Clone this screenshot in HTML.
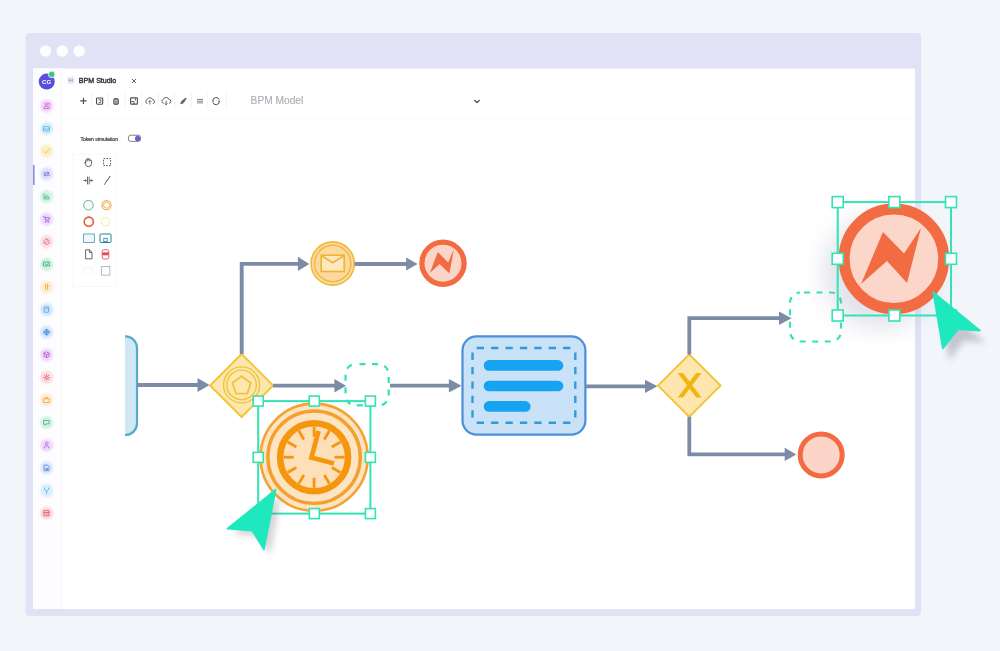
<!DOCTYPE html>
<html><head><meta charset="utf-8">
<style>
html,body{margin:0;padding:0;width:1000px;height:651px;overflow:hidden;background:#f2f6fa;}
svg{display:block;}
text{font-family:"Liberation Sans",sans-serif;}
svg{will-change:transform;}
</style></head><body>
<svg width="1000" height="651" viewBox="0 0 1000 651">
<defs>
<filter id="sh" x="-50%" y="-50%" width="200%" height="200%"><feGaussianBlur stdDeviation="12"/></filter>
<filter id="bl" x="-50%" y="-50%" width="200%" height="200%"><feGaussianBlur stdDeviation="0.8"/></filter>
<filter id="bl2" x="-50%" y="-50%" width="200%" height="200%"><feGaussianBlur stdDeviation="0.3"/></filter>
<filter id="sh2" x="-50%" y="-50%" width="200%" height="200%"><feGaussianBlur stdDeviation="3"/></filter>
</defs>

<rect x="0" y="0" width="1000" height="651" fill="#f2f6fa"/>
<rect x="25.5" y="33" width="895.5" height="583" rx="4" fill="#e1e2f5"/>
<circle cx="45.5" cy="51" r="5.8" fill="#fdfdff"/>
<circle cx="62.3" cy="51" r="5.8" fill="#fdfdff"/>
<circle cx="79.1" cy="51" r="5.8" fill="#fdfdff"/>
<rect x="33" y="68.5" width="882" height="540.5" fill="#ffffff"/>
<rect x="33" y="68.5" width="28" height="540.5" fill="#fdfdff"/>
<line x1="61" y1="68.5" x2="61" y2="609" stroke="#f4f4f8" stroke-width="1"/>
<rect x="33" y="165" width="1.6" height="20" fill="#8a8fd0"/>
<circle cx="46.7" cy="81.6" r="8" fill="#5a4fd8"/>
<text x="46.7" y="84" font-size="6.2" font-weight="bold" fill="#fff" text-anchor="middle">CG</text>
<circle cx="51.7" cy="74.4" r="3.3" fill="#3ec48e" stroke="#fff" stroke-width="0.8"/>
<circle cx="46.6" cy="106.0" r="6.6" fill="#f3d5f7" filter="url(#bl)"/>
<path transform="translate(46.6 106.0)" d="M-2.6 2.2 a2 2 0 0 1 2.2 -2 a2 2 0 0 1 2.2 2 Z M-0.4 -0.6 a1.3 1.3 0 1 1 0.01 0 M1 -1.5 a1.1 1.1 0 1 1 1.5 0.9 M2.4 0.6 a1.8 1.8 0 0 1 0.8 1.6" fill="none" stroke="#c05ad2" stroke-width="0.8" stroke-linecap="round" stroke-linejoin="round" filter="url(#bl2)"/>
<circle cx="46.6" cy="128.6" r="6.6" fill="#d3eefa" filter="url(#bl)"/>
<path transform="translate(46.6 128.6)" d="M-2.8 -2 H2.8 V2.4 H-2.8 Z M-2.8 0.2 H-1 L-0.5 1 H0.5 L1 0.2 H2.8" fill="none" stroke="#4fb0e0" stroke-width="0.8" stroke-linecap="round" stroke-linejoin="round" filter="url(#bl2)"/>
<circle cx="46.6" cy="151.2" r="6.6" fill="#fbf0c5" filter="url(#bl)"/>
<path transform="translate(46.6 151.2)" d="M-2.5 0.2 L-0.8 2 L2.6 -2.2" fill="none" stroke="#e8c040" stroke-width="0.8" stroke-linecap="round" stroke-linejoin="round" filter="url(#bl2)"/>
<circle cx="46.6" cy="173.9" r="6.6" fill="#dfe0fa" filter="url(#bl)"/>
<path transform="translate(46.6 173.9)" d="M-2.8 -1 H2.2 M1.2 -2 L2.4 -1 L1.2 0 M2.8 1.2 H-2.2 M-1.2 0.2 L-2.4 1.2 L-1.2 2.2" fill="none" stroke="#6068d0" stroke-width="0.8" stroke-linecap="round" stroke-linejoin="round" filter="url(#bl2)"/>
<circle cx="46.6" cy="196.5" r="6.6" fill="#d2f2e4" filter="url(#bl)"/>
<path transform="translate(46.6 196.5)" d="M-2.6 -2.6 V2.4 H2.8 M-1.2 1.2 V-0.2 M0.4 1.2 V-1.6 M2 1.2 V0.2" fill="none" stroke="#40b585" stroke-width="0.8" stroke-linecap="round" stroke-linejoin="round" filter="url(#bl2)"/>
<circle cx="46.6" cy="219.1" r="6.6" fill="#ecdafc" filter="url(#bl)"/>
<path transform="translate(46.6 219.1)" d="M-2.9 -2.4 H-1.9 L-1 1 H2.2 L2.8 -1.4 H-1.5 M-0.8 2.4 a0.4 0.4 0 1 0 0.01 0 M1.6 2.4 a0.4 0.4 0 1 0 0.01 0" fill="none" stroke="#9a4fe0" stroke-width="0.8" stroke-linecap="round" stroke-linejoin="round" filter="url(#bl2)"/>
<circle cx="46.6" cy="241.7" r="6.6" fill="#fbdde2" filter="url(#bl)"/>
<path transform="translate(46.6 241.7)" d="M0 -2.7 a2.7 2.7 0 1 0 0.01 0 M1.2 -1.2 L-0.4 0.4 L-1.2 1.2" fill="none" stroke="#e0607a" stroke-width="0.8" stroke-linecap="round" stroke-linejoin="round" filter="url(#bl2)"/>
<circle cx="46.6" cy="264.3" r="6.6" fill="#cdf2dd" filter="url(#bl)"/>
<path transform="translate(46.6 264.3)" d="M-2.8 -2.2 H2.8 V1.6 H-2.8 Z M-1.4 -0.4 L0 0.6 L1.4 -0.4" fill="none" stroke="#2aad6a" stroke-width="0.8" stroke-linecap="round" stroke-linejoin="round" filter="url(#bl2)"/>
<circle cx="46.6" cy="287.0" r="6.6" fill="#fdedd0" filter="url(#bl)"/>
<path transform="translate(46.6 287.0)" d="M-1 -2.8 V2.8 M0.9 -2.8 V2.8 M0.9 -1 H2.2" fill="none" stroke="#f0aa30" stroke-width="0.8" stroke-linecap="round" stroke-linejoin="round" filter="url(#bl2)"/>
<circle cx="46.6" cy="309.6" r="6.6" fill="#d3e8fb" filter="url(#bl)"/>
<path transform="translate(46.6 309.6)" d="M-2 -2.6 H2 V2.6 H-2 Z M-0.8 -0.8 H0.8" fill="none" stroke="#4a9ae0" stroke-width="0.8" stroke-linecap="round" stroke-linejoin="round" filter="url(#bl2)"/>
<circle cx="46.6" cy="332.2" r="6.6" fill="#d6e6fb" filter="url(#bl)"/>
<path transform="translate(46.6 332.2)" d="M0 -2.7 a2.7 2.7 0 1 0 0.01 0 M-2.7 0 H2.7 M0 -2.7 Q-1.6 0 0 2.7 Q1.6 0 0 -2.7" fill="none" stroke="#3d7fd8" stroke-width="0.8" stroke-linecap="round" stroke-linejoin="round" filter="url(#bl2)"/>
<circle cx="46.6" cy="354.8" r="6.6" fill="#f0d8fa" filter="url(#bl)"/>
<path transform="translate(46.6 354.8)" d="M0 -2.8 L2.6 -1.4 V1.4 L0 2.8 L-2.6 1.4 V-1.4 Z M-2.6 -1.4 L0 0 L2.6 -1.4 M0 0 V2.8" fill="none" stroke="#b050d8" stroke-width="0.8" stroke-linecap="round" stroke-linejoin="round" filter="url(#bl2)"/>
<circle cx="46.6" cy="377.4" r="6.6" fill="#fbdadd" filter="url(#bl)"/>
<path transform="translate(46.6 377.4)" d="M0 -1.3 a1.3 1.3 0 1 0 0.01 0 M0 -2.8 V-1.8 M0 1.8 V2.8 M-2.8 0 H-1.8 M1.8 0 H2.8 M-2 -2 L-1.3 -1.3 M1.3 1.3 L2 2 M2 -2 L1.3 -1.3 M-1.3 1.3 L-2 2" fill="none" stroke="#e06070" stroke-width="0.8" stroke-linecap="round" stroke-linejoin="round" filter="url(#bl2)"/>
<circle cx="46.6" cy="400.1" r="6.6" fill="#fdecd2" filter="url(#bl)"/>
<path transform="translate(46.6 400.1)" d="M-2.8 -1.4 H2.8 V2.4 H-2.8 Z M-1.2 -1.4 V-2.6 H1.2 V-1.4" fill="none" stroke="#f0a040" stroke-width="0.8" stroke-linecap="round" stroke-linejoin="round" filter="url(#bl2)"/>
<circle cx="46.6" cy="422.7" r="6.6" fill="#d2f2e2" filter="url(#bl)"/>
<path transform="translate(46.6 422.7)" d="M-2.6 -2.2 H2.6 V1.2 H-0.6 L-2 2.6 V1.2 H-2.6 Z" fill="none" stroke="#40b080" stroke-width="0.8" stroke-linecap="round" stroke-linejoin="round" filter="url(#bl2)"/>
<circle cx="46.6" cy="445.3" r="6.6" fill="#f0d8fa" filter="url(#bl)"/>
<path transform="translate(46.6 445.3)" d="M0 -0.5 a1.4 1.4 0 1 1 0.01 0 M-2.4 2.8 a2.4 2.4 0 0 1 4.8 0" fill="none" stroke="#b050e0" stroke-width="0.8" stroke-linecap="round" stroke-linejoin="round" filter="url(#bl2)"/>
<circle cx="46.6" cy="467.9" r="6.6" fill="#dde6fb" filter="url(#bl)"/>
<path transform="translate(46.6 467.9)" d="M-2.2 -2.8 H1 L2.4 -1.4 V2.8 H-2.2 Z M-0.8 0.4 H1 M-0.8 1.6 H1" fill="none" stroke="#5080e0" stroke-width="0.8" stroke-linecap="round" stroke-linejoin="round" filter="url(#bl2)"/>
<circle cx="46.6" cy="490.5" r="6.6" fill="#d8eefa" filter="url(#bl)"/>
<path transform="translate(46.6 490.5)" d="M-2 -2.6 V-1 L0 0.8 L2 -1 V-2.6 M0 0.8 V2.8" fill="none" stroke="#50a8d8" stroke-width="0.8" stroke-linecap="round" stroke-linejoin="round" filter="url(#bl2)"/>
<circle cx="46.6" cy="513.2" r="6.6" fill="#fcd8dc" filter="url(#bl)"/>
<path transform="translate(46.6 513.2)" d="M-2.4 -2.6 H2.4 V2.6 H-2.4 Z M-2.4 -0.6 H2.4 M-0.8 0.8 H0.8" fill="none" stroke="#e05060" stroke-width="0.8" stroke-linecap="round" stroke-linejoin="round" filter="url(#bl2)"/>
<rect x="67.4" y="76.6" width="6.8" height="7.4" rx="1" fill="#ebebf9"/>
<path d="M68.8 80.3 H72.8 M69.4 78.6 V82 M72.2 78.6 V82" stroke="#9a9cc8" stroke-width="0.8"/>
<text x="78.8" y="83.3" font-size="7.1" fill="#34363f" stroke="#34363f" stroke-width="0.4">BPM Studio</text>
<path d="M132 79 L136 83 M136 79 L132 83" stroke="#555" stroke-width="0.9"/>
<line x1="91.6" y1="92" x2="91.6" y2="108.5" stroke="#f0f0f4" stroke-width="0.8"/>
<line x1="108.2" y1="92" x2="108.2" y2="108.5" stroke="#f0f0f4" stroke-width="0.8"/>
<line x1="125" y1="92" x2="125" y2="108.5" stroke="#f0f0f4" stroke-width="0.8"/>
<line x1="141.6" y1="92" x2="141.6" y2="108.5" stroke="#f0f0f4" stroke-width="0.8"/>
<line x1="158.1" y1="92" x2="158.1" y2="108.5" stroke="#f0f0f4" stroke-width="0.8"/>
<line x1="174.7" y1="92" x2="174.7" y2="108.5" stroke="#f0f0f4" stroke-width="0.8"/>
<line x1="191.3" y1="92" x2="191.3" y2="108.5" stroke="#f0f0f4" stroke-width="0.8"/>
<line x1="207.7" y1="92" x2="207.7" y2="108.5" stroke="#f0f0f4" stroke-width="0.8"/>
<line x1="226.5" y1="92" x2="226.5" y2="108.5" stroke="#f0f0f4" stroke-width="0.8"/>
<path d="M80.3 100.9 H86.6 M83.45 97.7 V104.1" stroke="#4a4c55" stroke-width="1.1"/>
<rect x="96.5" y="98" width="6.2" height="6.2" rx="0.9" fill="none" stroke="#4a4c55" stroke-width="1.1"/>
<path d="M98.6 99.8 H100.8 V102.6 H98.6" fill="none" stroke="#4a4c55" stroke-width="0.8"/>
<rect x="113.8" y="98.6" width="4.6" height="5.8" rx="1.2" fill="#8a8c94" stroke="#4a4c55" stroke-width="0.9"/>
<path d="M114.2 100.4 H118 M114.2 102.2 H118" stroke="#ddd" stroke-width="0.5"/>
<rect x="130.6" y="97.9" width="6.8" height="6.2" rx="0.7" fill="none" stroke="#4a4c55" stroke-width="1.1"/>
<path d="M131.2 101.5 H134 V104 M135.5 98.5 V100.5" fill="none" stroke="#4a4c55" stroke-width="0.9"/>
<path d="M147.5 103.6 a2.1 2.1 0 0 1 -0.2 -4.1 a2.8 2.8 0 0 1 5.3 0.2 a1.9 1.9 0 0 1 0.2 3.9 M149.9 104.5 V100.6 M148.6 101.8 L149.9 100.5 L151.2 101.8" fill="none" stroke="#4a4c55" stroke-width="0.85"/>
<path d="M163.7 103.3 a2.1 2.1 0 0 1 -0.2 -4.1 a2.8 2.8 0 0 1 5.3 0.2 a1.9 1.9 0 0 1 0.2 3.9 M166.1 100.8 V104.8 M164.8 103.5 L166.1 104.8 L167.4 103.5" fill="none" stroke="#4a4c55" stroke-width="0.85"/>
<path d="M180.8 103.6 L181.8 101.2 L185.8 98 L186.2 98.4 L183.6 102.6 L181.2 104 Z" fill="#6a6c74" stroke="#4a4c55" stroke-width="0.7"/>
<path d="M197 99.5 H203 M197 101.2 H203 M197 102.9 H203" stroke="#77787f" stroke-width="0.9"/>
<path d="M219.3 99.6 A3.4 3.4 0 0 0 212.8 100.6 M212.9 102.6 A3.4 3.4 0 0 0 219.4 101.8" fill="none" stroke="#4a4c55" stroke-width="1"/><path d="M212 100.9 L213.9 100.2 L213.4 102.2 Z M220.2 101.4 L218.3 102.1 L218.7 100.1 Z" fill="#4a4c55"/>

<text x="250.6" y="103.9" font-size="10.2" fill="#aeafb8" stroke="#aeafb8" stroke-width="0.15">BPM Model</text>
<path d="M474.3 100 L477 102.5 L479.7 100" fill="none" stroke="#5a5a62" stroke-width="1.4" stroke-linejoin="round"/>
<line x1="61" y1="118" x2="915" y2="118" stroke="#fafafc" stroke-width="1"/>
<rect x="73" y="154" width="43" height="132.5" fill="#ffffff" stroke="#f6f6f9" stroke-width="0.8"/>
<text x="80.4" y="140.5" font-size="5.05" fill="#3c3e46" stroke="#3c3e46" stroke-width="0.22">Token simulation</text>
<rect x="128.4" y="135.2" width="12.2" height="6.2" rx="2.4" fill="#fff" stroke="#5e606a" stroke-width="0.8"/>
<circle cx="137.6" cy="138.4" r="2.6" fill="#6a5ed8"/>
<path d="M85.6 163.2 V160.4 a0.75 0.75 0 0 1 1.5 0 V159.2 a0.75 0.75 0 0 1 1.5 0 V159.6 a0.75 0.75 0 0 1 1.5 0 V161 a0.7 0.7 0 0 1 1.4 0 V163.6 a3 3 0 0 1 -3 3 h-0.4 a2.6 2.6 0 0 1 -2.5 -2 L84.8 162.8 a0.6 0.6 0 0 1 0.8 -0.6 Z" fill="#fff" stroke="#4a4c55" stroke-width="0.85"/>
<path d="M86.2 160.6 V161.6 M87.7 159.2 V161.4 M89.2 159.6 V161.4" stroke="#4a4c55" stroke-width="0.6"/>
<rect x="103.6" y="158.6" width="7" height="7" fill="none" stroke="#4a4c55" stroke-width="0.95" stroke-dasharray="1.6 1.2"/>
<path d="M87.5 176.6 V184.4 M89.2 176.6 V184.4 M83.6 180.5 H86.2 M90.5 180.5 H93.1" stroke="#4a4c55" stroke-width="0.85"/>
<path d="M85.4 179.4 L86.6 180.5 L85.4 181.6 Z M91.3 179.4 L90.1 180.5 L91.3 181.6 Z" fill="#4a4c55" stroke="#4a4c55" stroke-width="0.4"/>
<path d="M104.2 184.8 L106.8 181 M107.4 180 L110 176.6 M106.3 180.8 L108.2 179.8" stroke="#4a4c55" stroke-width="0.85"/>
<path d="M108.7 176.6 L110.3 176.2 L110 177.8 Z" fill="#4a4c55"/>
<circle cx="88.5" cy="205.2" r="4.8" fill="#f2fbf8" stroke="#4f9a80" stroke-width="0.8"/>
<circle cx="106.5" cy="205.2" r="4.6" fill="none" stroke="#eeac50" stroke-width="1.1"/><circle cx="106.5" cy="205.2" r="3" fill="none" stroke="#eeac50" stroke-width="0.9"/>
<circle cx="88.8" cy="221.7" r="4.6" fill="none" stroke="#e0582e" stroke-width="1.6"/>
<circle cx="105.3" cy="221.7" r="4.2" fill="none" stroke="#efe890" stroke-width="1.1" stroke-dasharray="2.2 1.1"/>
<rect x="83.5" y="234" width="10.8" height="8.5" fill="#eef8fc" stroke="#4f94ad" stroke-width="0.8"/>
<rect x="100" y="234" width="11" height="8.5" rx="0.8" fill="none" stroke="#2d7f99" stroke-width="1"/><rect x="103.8" y="238.3" width="3.4" height="3.4" fill="none" stroke="#2d7f99" stroke-width="0.8"/>
<path d="M85.6 249.8 H89.4 L92 252.4 V258.8 H85.6 Z M89.4 249.8 V252.4 H92" fill="none" stroke="#4a4c55" stroke-width="0.85" stroke-linejoin="round"/>
<rect x="102.2" y="249.7" width="6.6" height="9.3" rx="1.8" fill="#fff" stroke="#e04050" stroke-width="0.8"/><rect x="102.2" y="252.3" width="6.6" height="3" fill="#e84a5a"/>
<rect x="84" y="268" width="8" height="6" fill="none" stroke="#f2f2f4" stroke-width="0.8"/>
<rect x="101.3" y="266.5" width="8.6" height="8.6" fill="none" stroke="#9a9aa2" stroke-width="0.7"/>
<path d="M125 336.4 H125.5 A11.5 11.5 0 0 1 137 347.9 V423.5 A11.5 11.5 0 0 1 125.5 435 H125 Z" fill="#cfe8f3"/>
<path d="M125 336.4 H125.5 A11.5 11.5 0 0 1 137 347.9 V423.5 A11.5 11.5 0 0 1 125.5 435 H125" fill="none" stroke="#5aa9c9" stroke-width="2.2"/>
<line x1="137" y1="385" x2="198.5" y2="385" stroke="#7d8ca6" stroke-width="3.8"/>
<polygon points="197.5,378 209.5,385 197.5,392" fill="#7d8ca6"/>
<polygon points="241.6,354.0 273.1,385.5 241.6,417.0 210.1,385.5" fill="#fde7ae" stroke="#f2c53d" stroke-width="2"/>
<circle cx="241.6" cy="384.9" r="18" fill="none" stroke="#f0c438" stroke-width="1.4"/>
<circle cx="241.6" cy="384.9" r="14.8" fill="none" stroke="#f0c438" stroke-width="1.4"/>
<polygon points="241.60,376.30 250.73,382.93 247.24,393.67 235.96,393.67 232.47,382.93" fill="none" stroke="#f0c438" stroke-width="1.9" stroke-linejoin="round"/>
<path d="M241.7 354 V263.9 H298" fill="none" stroke="#7d8ca6" stroke-width="3.9"/>
<polygon points="297.9,256.7 309.3,263.9 297.9,271" fill="#7d8ca6"/>
<circle cx="332.7" cy="263.5" r="21.6" fill="#fdd99f" stroke="#efb93c" stroke-width="1.6"/>
<circle cx="332.7" cy="263.5" r="18.2" fill="none" stroke="#efb93c" stroke-width="1.4"/>
<rect x="321.2" y="255.2" width="23" height="16.3" fill="#fde6c0" stroke="#eeb530" stroke-width="1.6"/>
<path d="M321.2 255.5 L332.7 262.8 L344.2 255.5" fill="none" stroke="#eeb730" stroke-width="1.6"/>
<line x1="354.5" y1="264" x2="407.1" y2="264" stroke="#7d8ca6" stroke-width="3.8"/>
<polygon points="406.1,257.4 417.6,264 406.1,270.6" fill="#7d8ca6"/>
<circle cx="443" cy="263.2" r="21.1" fill="#fbd5c8" stroke="#f26b43" stroke-width="5.2"/>
<polygon points="429.8,273.1 437.8,252 448.2,262.5 453.9,249.1 449.4,273.6 439.6,264" fill="#f26b43"/>
<line x1="273" y1="385.7" x2="335.4" y2="385.7" stroke="#7d8ca6" stroke-width="3.8"/>
<polygon points="334.4,378.9 346,385.7 334.4,392.5" fill="#7d8ca6"/>
<rect x="345.5" y="364.2" width="43.2" height="41.2" rx="10" fill="none" stroke="#34e3b4" stroke-width="2.2" stroke-dasharray="6 6.5" stroke-dashoffset="-4"/>
<line x1="390" y1="385.7" x2="449.9" y2="385.7" stroke="#7d8ca6" stroke-width="3.8"/>
<polygon points="448.9,378.9 461.5,385.7 448.9,392.5" fill="#7d8ca6"/>
<rect x="462.5" y="336.4" width="122.9" height="98.2" rx="14" fill="#c9e2f8" stroke="#4a90d9" stroke-width="2.2"/>
<line x1="472.5" y1="348" x2="575.3" y2="348" stroke="#2f9bd8" stroke-width="2.4" stroke-dasharray="7.3 7.1" stroke-dashoffset="-4.2"/>
<line x1="472.5" y1="422.7" x2="575.3" y2="422.7" stroke="#2f9bd8" stroke-width="2.4" stroke-dasharray="7.3 7.1" stroke-dashoffset="-4.2"/>
<line x1="472.5" y1="348" x2="472.5" y2="422.7" stroke="#2f9bd8" stroke-width="2.4" stroke-dasharray="7.3 7.1" stroke-dashoffset="-4.6"/>
<line x1="575.3" y1="348" x2="575.3" y2="422.7" stroke="#2f9bd8" stroke-width="2.4" stroke-dasharray="7.3 7.1" stroke-dashoffset="-4.6"/>
<line x1="489" y1="365.4" x2="558" y2="365.4" stroke="#17a2f2" stroke-width="10.6" stroke-linecap="round"/>
<line x1="489" y1="386" x2="558" y2="386" stroke="#17a2f2" stroke-width="10.6" stroke-linecap="round"/>
<line x1="489" y1="406.4" x2="525.3" y2="406.4" stroke="#17a2f2" stroke-width="10.6" stroke-linecap="round"/>
<line x1="585.4" y1="386.3" x2="646.0" y2="386.3" stroke="#7d8ca6" stroke-width="3.8"/>
<polygon points="645.0,379.7 657.5,386.3 645.0,392.90000000000003" fill="#7d8ca6"/>
<polygon points="689.3,354.40000000000003 720.5,385.6 689.3,416.8 658.0999999999999,385.6" fill="#fde7ae" stroke="#f2c53d" stroke-width="2"/>
<polygon points="677.6,373 683.0,373 689.6,381.6 696.2,373 701.6,373 692.2,385.2 701.6,397.5 696.2,397.5 689.6,388.8 683.0,397.5 677.6,397.5 687.0,385.2" fill="#f1b512"/>
<path d="M689.3 354.5 V318.2 H780" fill="none" stroke="#7d8ca6" stroke-width="3.8"/>
<polygon points="779,311.5 791.6,318.2 779,324.9" fill="#7d8ca6"/>
<path d="M689.3 416.8 V454.4 H785" fill="none" stroke="#7d8ca6" stroke-width="3.8"/>
<polygon points="784.7,447.7 796.3,454.4 784.7,461.1" fill="#7d8ca6"/>
<circle cx="821.2" cy="454.9" r="21" fill="#fcd5c8" stroke="#f26b43" stroke-width="5"/>
<rect x="790" y="292.5" width="51" height="49" rx="10" fill="none" stroke="#34e3b4" stroke-width="2.2" stroke-dasharray="6 6.5" stroke-dashoffset="-4"/>
<circle cx="880" cy="272" r="56" fill="#9aa0ba" opacity="0.3" filter="url(#sh)"/>
<circle cx="893.9" cy="258.8" r="49.8" fill="#fcd6c8" stroke="#f26b43" stroke-width="11"/>
<polygon points="861,284 883,232 904,253.5 921,228 907,283 887,261" fill="#f26b43"/>
<rect x="837.7" y="202.1" width="113.29999999999995" height="113.4" fill="none" stroke="#34e3b4" stroke-width="2"/>
<rect x="832.2" y="196.6" width="11" height="11" fill="#fff" stroke="#34e3b4" stroke-width="1.6"/>
<rect x="888.85" y="196.6" width="11" height="11" fill="#fff" stroke="#34e3b4" stroke-width="1.6"/>
<rect x="945.5" y="196.6" width="11" height="11" fill="#fff" stroke="#34e3b4" stroke-width="1.6"/>
<rect x="832.2" y="253.3" width="11" height="11" fill="#fff" stroke="#34e3b4" stroke-width="1.6"/>
<rect x="945.5" y="253.3" width="11" height="11" fill="#fff" stroke="#34e3b4" stroke-width="1.6"/>
<rect x="832.2" y="310.0" width="11" height="11" fill="#fff" stroke="#34e3b4" stroke-width="1.6"/>
<rect x="888.85" y="310.0" width="11" height="11" fill="#fff" stroke="#34e3b4" stroke-width="1.6"/>
<rect x="945.5" y="310.0" width="11" height="11" fill="#fff" stroke="#34e3b4" stroke-width="1.6"/>
<polygon points="939,304 986,343 964,341 949,361" fill="#707080" opacity="0.35" filter="url(#sh2)"/>
<polygon points="933.1,292 980.1,330.7 958,329.3 942.8,348.6" fill="#1fe8bf" stroke="#1fe8bf" stroke-width="1.5" stroke-linejoin="round"/>
<circle cx="314.1" cy="457.2" r="53.6" fill="#fde4c2" stroke="#f4a333" stroke-width="2.6"/>
<circle cx="314.1" cy="457.2" r="46.2" fill="none" stroke="#f4a030" stroke-width="3.4"/>
<circle cx="314.1" cy="457.2" r="34" fill="#fde0b8" stroke="#f6960f" stroke-width="6.5"/>
<line x1="314.10" y1="436.70" x2="314.10" y2="426.70" stroke="#f6960f" stroke-width="2.8"/>
<line x1="324.35" y1="439.45" x2="329.35" y2="430.79" stroke="#f6960f" stroke-width="2.8"/>
<line x1="331.85" y1="446.95" x2="340.51" y2="441.95" stroke="#f6960f" stroke-width="2.8"/>
<line x1="334.60" y1="457.20" x2="344.60" y2="457.20" stroke="#f6960f" stroke-width="2.8"/>
<line x1="331.85" y1="467.45" x2="340.51" y2="472.45" stroke="#f6960f" stroke-width="2.8"/>
<line x1="324.35" y1="474.95" x2="329.35" y2="483.61" stroke="#f6960f" stroke-width="2.8"/>
<line x1="314.10" y1="477.70" x2="314.10" y2="487.70" stroke="#f6960f" stroke-width="2.8"/>
<line x1="303.85" y1="474.95" x2="298.85" y2="483.61" stroke="#f6960f" stroke-width="2.8"/>
<line x1="296.35" y1="467.45" x2="287.69" y2="472.45" stroke="#f6960f" stroke-width="2.8"/>
<line x1="293.60" y1="457.20" x2="283.60" y2="457.20" stroke="#f6960f" stroke-width="2.8"/>
<line x1="296.35" y1="446.95" x2="287.69" y2="441.95" stroke="#f6960f" stroke-width="2.8"/>
<line x1="303.85" y1="439.45" x2="298.85" y2="430.79" stroke="#f6960f" stroke-width="2.8"/>
<path d="M318.5 431 L311.5 457.5 L334 463.5" fill="none" stroke="#f6960f" stroke-width="4.8" stroke-linejoin="miter"/>
<rect x="258.2" y="401.1" width="112.19999999999999" height="112.5" fill="none" stroke="#34e3b4" stroke-width="2"/>
<rect x="253.2" y="396.1" width="10" height="10" fill="#fff" stroke="#34e3b4" stroke-width="1.6"/>
<rect x="309.29999999999995" y="396.1" width="10" height="10" fill="#fff" stroke="#34e3b4" stroke-width="1.6"/>
<rect x="365.4" y="396.1" width="10" height="10" fill="#fff" stroke="#34e3b4" stroke-width="1.6"/>
<rect x="253.2" y="452.35" width="10" height="10" fill="#fff" stroke="#34e3b4" stroke-width="1.6"/>
<rect x="365.4" y="452.35" width="10" height="10" fill="#fff" stroke="#34e3b4" stroke-width="1.6"/>
<rect x="253.2" y="508.6" width="10" height="10" fill="#fff" stroke="#34e3b4" stroke-width="1.6"/>
<rect x="309.29999999999995" y="508.6" width="10" height="10" fill="#fff" stroke="#34e3b4" stroke-width="1.6"/>
<rect x="365.4" y="508.6" width="10" height="10" fill="#fff" stroke="#34e3b4" stroke-width="1.6"/>
<polygon points="281,495 233,534 258,536 270,555" fill="#707080" opacity="0.3" filter="url(#sh2)"/>
<polygon points="275.8,489.4 227.4,528.7 252.3,530.8 264,549.5" fill="#1fe8bf" stroke="#1fe8bf" stroke-width="1.5" stroke-linejoin="round"/>
</svg></body></html>
